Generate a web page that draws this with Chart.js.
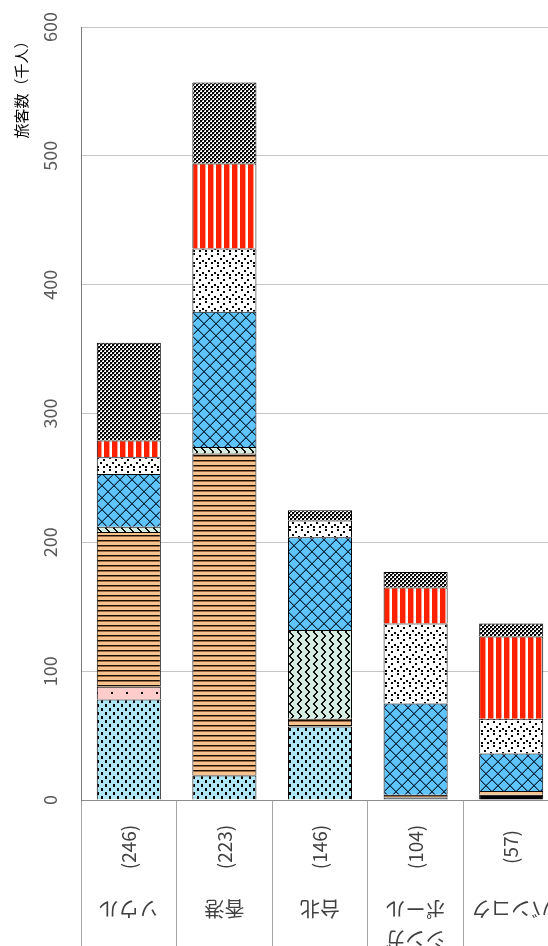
<!DOCTYPE html>
<html>
<head>
<meta charset="utf-8">
<script src="https://cdn.jsdelivr.net/npm/chart.js@4"></script>
<style>
html,body{margin:0;padding:0;background:#fff;overflow:hidden;}
#wrap{width:559px;height:946px;}
</style>
</head>
<body>
<div id="wrap"><canvas id="c" width="559" height="946"></canvas></div>
<script>
// ---- data ----
const categories = ['ソウル', '香港', '台北', 'シンガポール', 'バンコク'];
const nameLines = [['ソウル'], ['香港'], ['台北'], ['シンガ', 'ポール'], ['バンコク']];
const counts = ['(246)', '(223)', '(146)', '(104)', '(57)'];
const yTicks = [0, 100, 200, 300, 400, 500, 600];
const axisTitle = '旅客数（千人）';

const s1 = [78, 19, 57, 2, 4];
const s2 = [10, 0, 0, 0, 0];
const s3 = [120, 250, 6, 2, 3];
const s4 = [4, 5, 69, 0, 0];
const s5 = [41, 105, 72, 71, 29];
const s6 = [13, 49, 13, 62, 27];
const s7 = [13, 66, 0, 28, 64];
const s8 = [76, 63, 8, 12, 10];

// ---- patterns ----
function makePattern(w, h, bg, draw) {
  const c = document.createElement('canvas');
  c.width = w; c.height = h;
  const g = c.getContext('2d');
  g.fillStyle = bg; g.fillRect(0, 0, w, h);
  draw(g);
  return g.createPattern(c, 'repeat');
}

const p1 = makePattern(8, 8, '#aee6f6', g => {
  g.fillStyle = '#000';
  g.fillRect(1, 0, 2, 3); g.fillRect(5, 4, 2, 3);
});
const p2 = makePattern(15, 14, '#ffcccc', g => {
  g.fillStyle = '#000'; g.fillRect(6, 6, 2, 2);
});
const p3 = makePattern(4, 5, '#f6c28e', g => {
  g.fillStyle = '#1a0f05'; g.fillRect(0, 0, 4, 1);
  g.fillStyle = '#9c6a42'; g.fillRect(0, 1, 4, 1);
});
const p4 = makePattern(8, 8, '#d6ede2', g => {
  g.fillStyle = '#111';
  const xs = [1, 2, 3, 4, 4, 3, 2, 1];
  for (let y = 0; y < 8; y++) g.fillRect(xs[y], y, 2, 1);
});
const p5 = makePattern(12, 12, '#5fc4fb', g => {
  g.fillStyle = '#0e2c44';
  for (let i = 0; i < 12; i++) { g.fillRect(i, i, 1, 1); g.fillRect(11 - i, i, 1, 1); }
  g.fillStyle = 'rgba(14,44,68,0.5)';
  for (let i = 0; i < 11; i++) { g.fillRect(i + 1, i, 1, 1); g.fillRect(10 - i, i, 1, 1); }
  g.fillStyle = '#0e2c44';
  g.fillRect(5, 5, 2, 2); g.fillRect(0, 0, 1, 1); g.fillRect(11, 11, 1, 1);
});
const p6 = makePattern(12, 12, '#ffffff', g => {
  g.fillStyle = '#000';
  [[1, 1], [7, 3], [4, 6], [10, 8], [1, 10], [7, 10]].forEach(p => g.fillRect(p[0], p[1], 2, 2));
});
const p7 = makePattern(8, 2, '#ffffff', g => {
  g.fillStyle = '#ff2200'; g.fillRect(0, 0, 5, 2);
  g.fillStyle = '#ff9a88'; g.fillRect(5, 0, 1, 2);
});
const p8 = makePattern(4, 4, '#ffffff', g => {
  g.fillStyle = '#000000';
  g.fillRect(0, 0, 2, 2); g.fillRect(2, 2, 2, 2);
  g.fillStyle = '#777';
  g.fillRect(2, 0, 1, 1); g.fillRect(0, 2, 1, 1);
});

const series = [
  { data: s1, bg: [p1, p1, p1, '#56707a', '#000000'] },
  { data: s2, bg: p2 },
  { data: s3, bg: p3 },
  { data: s4, bg: p4 },
  { data: s5, bg: p5 },
  { data: s6, bg: p6 },
  { data: s7, bg: p7 },
  { data: s8, bg: p8 }
];

const labelPlugin = {
  id: 'customLabels',
  afterDraw(chart) {
    const ctx = chart.ctx, xs = chart.scales.x, ys = chart.scales.y;
    ctx.save();
    ctx.textAlign = 'center';
    ctx.textBaseline = 'middle';
    // y tick labels (rotated)
    ctx.fillStyle = '#595959';
    ctx.font = '18px "Noto Sans CJK JP", "Noto Sans", sans-serif';
    yTicks.forEach(v => {
      const y = ys.getPixelForValue(v);
      ctx.save(); ctx.translate(50, y); ctx.rotate(-Math.PI / 2);
      ctx.fillText(String(v), 0, 0); ctx.restore();
    });
    // axis title
    ctx.fillStyle = '#000';
    ctx.font = '15px "Noto Sans CJK JP", sans-serif';
    ctx.save(); ctx.translate(21, 86); ctx.rotate(-Math.PI / 2);
    ctx.fillText(axisTitle, 0, 0); ctx.restore();
    // category labels
    categories.forEach((name, i) => {
      const x = xs.getPixelForValue(i);
      ctx.fillStyle = '#404040';
      ctx.font = '19px "Noto Sans CJK JP", sans-serif';
      ctx.save(); ctx.translate(x, 847); ctx.rotate(-Math.PI / 2);
      ctx.fillText(counts[i], 0, 0); ctx.restore();
      ctx.font = '20px "Noto Sans CJK JP", sans-serif';
      const lines = nameLines[i];
      lines.forEach((ln, j) => {
        const y = 909 + (lines.length - 1 - j) * 30;
        ctx.save(); ctx.translate(x, y); ctx.rotate(Math.PI);
        ctx.fillText(ln, 0, 0); ctx.restore();
      });
    });
    ctx.restore();
  }
};

new Chart(document.getElementById('c'), {
  type: 'bar',
  data: {
    labels: categories,
    datasets: series.map((s, i) => ({
      label: 'S' + (i + 1),
      data: s.data,
      backgroundColor: s.bg,
      borderColor: '#000',
      borderWidth: 1,
      categoryPercentage: 1,
      barPercentage: 0.67
    }))
  },
  options: {
    responsive: false,
    animation: false,
    layout: { padding: { top: 27, right: 0, bottom: 0, left: 0 } },
    plugins: { legend: { display: false }, tooltip: { enabled: false } },
    scales: {
      x: {
        stacked: true,
        ticks: { display: false },
        grid: { offset: true, drawOnChartArea: false, drawTicks: true, tickLength: 146, color: '#a6a6a6', lineWidth: 1 },
        border: { color: '#8c8c8c', width: 1 }
      },
      y: {
        stacked: true,
        min: 0, max: 600,
        ticks: { display: false, stepSize: 100 },
        grid: { color: '#c4c4c4', drawTicks: false },
        border: { color: '#7a7a7a', width: 1 },
        afterFit(scale) { scale.width = 81; }
      }
    }
  },
  plugins: [labelPlugin]
});
</script>
</body>
</html>
